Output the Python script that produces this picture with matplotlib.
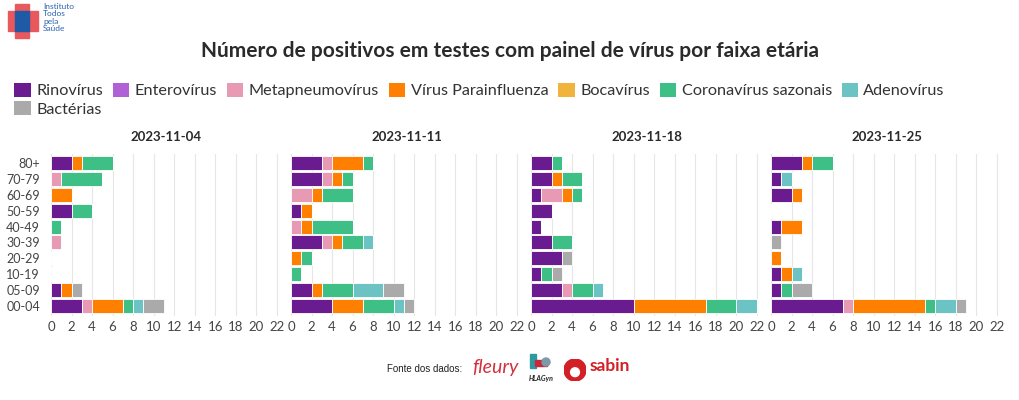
import matplotlib
matplotlib.use("Agg")
import matplotlib.pyplot as plt
from matplotlib.patches import Patch, Rectangle, Circle

AGES = ["00-04", "05-09", "10-19", "20-29", "30-39", "40-49", "50-59", "60-69", "70-79", "80+"]
DATES = ["2023-11-04", "2023-11-11", "2023-11-18", "2023-11-25"]
SERIES = ["Rinovírus", "Enterovírus", "Metapneumovírus", "Vírus Parainfluenza",
          "Bocavírus", "Coronavírus sazonais", "Adenovírus", "Bactérias"]
COLORS = ["#6a1b8f", "#b061d6", "#e89ab5", "#ff8000", "#f0b43c", "#3dbf86", "#6cc3c3", "#aaaaaa"]

# counts per week, per series, per age group (AGES order)
W1 = {
    "Rinovírus":            [3, 1, 0, 0, 0, 0, 2, 0, 0, 2],
    "Enterovírus":          [0, 0, 0, 0, 0, 0, 0, 0, 0, 0],
    "Metapneumovírus":      [1, 0, 0, 0, 1, 0, 0, 0, 1, 0],
    "Vírus Parainfluenza":  [3, 1, 0, 0, 0, 0, 0, 2, 0, 1],
    "Bocavírus":            [0, 0, 0, 0, 0, 0, 0, 0, 0, 0],
    "Coronavírus sazonais": [1, 0, 0, 0, 0, 1, 2, 0, 4, 3],
    "Adenovírus":           [1, 0, 0, 0, 0, 0, 0, 0, 0, 0],
    "Bactérias":            [2, 1, 0, 0, 0, 0, 0, 0, 0, 0],
}
W2 = {
    "Rinovírus":            [4, 2, 0, 0, 3, 0, 1, 0, 3, 3],
    "Enterovírus":          [0, 0, 0, 0, 0, 0, 0, 0, 0, 0],
    "Metapneumovírus":      [0, 0, 0, 0, 1, 1, 0, 2, 1, 1],
    "Vírus Parainfluenza":  [3, 1, 0, 1, 1, 1, 1, 1, 1, 3],
    "Bocavírus":            [0, 0, 0, 0, 0, 0, 0, 0, 0, 0],
    "Coronavírus sazonais": [3, 3, 1, 1, 2, 4, 0, 3, 1, 1],
    "Adenovírus":           [1, 3, 0, 0, 1, 0, 0, 0, 0, 0],
    "Bactérias":            [1, 2, 0, 0, 0, 0, 0, 0, 0, 0],
}
W3 = {
    "Rinovírus":            [10, 3, 1, 3, 2, 1, 2, 1, 2, 2],
    "Enterovírus":          [0, 0, 0, 0, 0, 0, 0, 0, 0, 0],
    "Metapneumovírus":      [0, 1, 0, 0, 0, 0, 0, 2, 0, 0],
    "Vírus Parainfluenza":  [7, 0, 0, 0, 0, 0, 0, 1, 1, 0],
    "Bocavírus":            [0, 0, 0, 0, 0, 0, 0, 0, 0, 0],
    "Coronavírus sazonais": [3, 2, 1, 0, 2, 0, 0, 1, 2, 1],
    "Adenovírus":           [2, 1, 0, 0, 0, 0, 0, 0, 0, 0],
    "Bactérias":            [0, 0, 1, 1, 0, 0, 0, 0, 0, 0],
}
W4 = {
    "Rinovírus":            [7, 1, 1, 0, 0, 1, 0, 2, 1, 3],
    "Enterovírus":          [0, 0, 0, 0, 0, 0, 0, 0, 0, 0],
    "Metapneumovírus":      [1, 0, 0, 0, 0, 0, 0, 0, 0, 0],
    "Vírus Parainfluenza":  [7, 0, 1, 1, 0, 2, 0, 1, 0, 1],
    "Bocavírus":            [0, 0, 0, 0, 0, 0, 0, 0, 0, 0],
    "Coronavírus sazonais": [1, 1, 0, 0, 0, 0, 0, 0, 0, 2],
    "Adenovírus":           [2, 0, 1, 0, 0, 0, 0, 0, 1, 0],
    "Bactérias":            [1, 2, 0, 0, 1, 0, 0, 0, 0, 0],
}
WEEKS = [W1, W2, W3, W4]
XTICKS = list(range(0, 23, 2))

plt.rcParams["font.family"] = ["Lato", "DejaVu Sans"]
fig = plt.figure(figsize=(10.2, 4.0), dpi=100)

W, H = 1020, 400
for i, (date, week) in enumerate(zip(DATES, WEEKS)):
    left = (51 + 240 * i) / W
    ax = fig.add_axes([left, 1 - 315.5 / H, 231 / W, 162 / H])
    base = [0] * len(AGES)
    for name, color in zip(SERIES, COLORS):
        vals = week[name]
        ax.barh(range(len(AGES)), vals, left=base, height=0.88, color=color,
                edgecolor="white", linewidth=0.6, zorder=3)
        base = [b + v for b, v in zip(base, vals)]
    ax.set_xlim(0, 22.5)
    ax.set_ylim(-0.6, len(AGES) - 0.4)
    ax.set_xticks(XTICKS)
    ax.grid(axis="x", color="#e6e6e6", linewidth=0.8, zorder=0)
    for s in ax.spines.values():
        s.set_visible(False)
    ax.tick_params(axis="x", length=0, labelsize=9.5, colors="#444444", pad=4)
    ax.tick_params(axis="y", length=0, colors="#444444", pad=8)
    ax.set_yticks(range(len(AGES)))
    if i == 0:
        ax.set_yticklabels(AGES, fontsize=9)
    else:
        ax.set_yticklabels([])
    ax.set_title(date, fontsize=9.5, fontweight="bold", color="#2a2a2a", pad=9)

fig.text(0.5, 1 - 51 / H, "Número de positivos em testes com painel de vírus por faixa etária",
         ha="center", va="center", fontsize=15, fontweight="bold", color="#2a2a2a")

order = [0, 7, 1, 2, 3, 4, 5, 6]
handles = [Patch(facecolor=COLORS[k], edgecolor="none") for k in order]
labels = [SERIES[k] for k in order]
fig.legend(handles, labels, ncol=7, loc="upper left", bbox_to_anchor=(8 / W, 1 - 76 / H),
           frameon=False, fontsize=11.7, handlelength=1.0, handleheight=1.0,
           handletextpad=0.35, columnspacing=0.6, labelspacing=0.15, borderaxespad=0,
           labelcolor="#333333")

# logo, top left
lax = fig.add_axes([0, 1 - 42 / H, 90 / W, 42 / H])
lax.set_xlim(0, 90)
lax.set_ylim(42, 0)
lax.axis("off")
lax.add_patch(Rectangle((15, 4), 14, 34, color="#e8585c"))
lax.add_patch(Rectangle((8, 11), 30, 20, color="#e8585c"))
lax.add_patch(Rectangle((15, 11), 14, 20, color="#1f5aa6"))
lax.text(43, 3, "Instituto\nTodos\npela\nSaúde", fontsize=6, color="#2c63b0",
         va="top", ha="left", linespacing=1.05)

# data sources footer
fig.text(425 / W, 1 - 369 / H, "Fonte dos dados:", fontsize=7, family="Liberation Sans",
         ha="center", va="center", color="#222222")
fig.text(495 / W, 1 - 368 / H, "fleury", fontsize=14, style="italic", color="#d32f3c",
         ha="center", va="center")
fig.text(541 / W, 1 - 378 / H, "HLAGyn", fontsize=5, style="italic", fontweight="bold",
         ha="center", va="center", color="#222222")
fax = fig.add_axes([527 / W, 1 - 372 / H, 26 / W, 20 / H])
fax.axis("off")
fax.set_xlim(0, 26)
fax.set_ylim(20, 0)
fax.add_patch(Rectangle((3, 2), 6, 14, color="#2e9aa0"))
fax.add_patch(Rectangle((8, 8), 12, 6, color="#c8283c"))
fax.add_patch(Circle((19, 10), 4, color="#7c9aa8"))
sax = fig.add_axes([564 / W, 1 - 381 / H, 22 / W, 22 / H])
sax.axis("off")
sax.set_xlim(-1, 1)
sax.set_ylim(-1, 1)
sax.set_aspect("equal")
sax.add_patch(Circle((0, 0), 1, color="#d31f26"))
sax.add_patch(Circle((0, -0.2), 0.4, color="white"))
fig.text(590 / W, 1 - 366 / H, "sabin", fontsize=12.5, color="#d31f26",
         ha="left", va="center", fontweight="bold")

fig.savefig("out.png", dpi=100)
